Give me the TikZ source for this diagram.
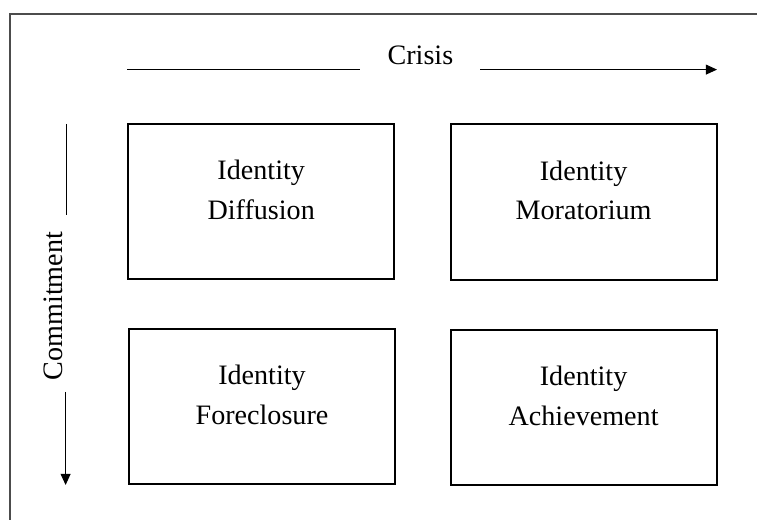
\documentclass[tikz,border=0pt]{standalone}
\usepackage{fontspec}
\setmainfont{Liberation Serif}
\usepackage{tikz}
\usetikzlibrary{arrows.meta}

\begin{document}
\begin{tikzpicture}[>={Triangle[length=2.8mm,width=2.5mm]},
  statusbox/.style={draw=black,line width=1.3pt,minimum width=6.65cm,minimum height=3.88cm,inner sep=0pt},
  statustext/.style={align=center,font=\fontsize{20}{28}\selectfont,inner sep=0pt},
  axislabel/.style={font=\fontsize{20}{24}\selectfont,inner sep=0pt},
  axisline/.style={line width=0.75pt}]
\useasboundingbox (0,0) rectangle (18.925,-13);
\draw[line width=1.3pt,black!70] (0.24,-13) -- (0.24,-0.36) -- (18.925,-0.36);
% crisis axis
\coordinate (cr0) at (3.175,-1.74);
\coordinate (cr1) at (9.0,-1.74);
\node[axislabel] (crisis) at (10.51,-1.39) {Crisis};
\coordinate (cr2) at (12.0,-1.74);
\coordinate (cr3) at (17.925,-1.74);
\draw[axisline] (cr0)--(cr1);
\draw[axisline,->] (cr2)--(cr3);
% commitment axis
\coordinate (cm0) at (1.66,-3.1);
\coordinate (cm1) at (1.66,-5.375);
\node[axislabel,rotate=90] (commit) at (1.34,-7.65) {Commitment};
\coordinate (cm2) at (1.64,-9.8);
\coordinate (cm3) at (1.64,-12.125);
\draw[axisline] (cm0)--(cm1);
\draw[axisline,->] (cm2)--(cm3);
% the four statuses
\node[statusbox] (diff) at (6.53,-5.04) {};
\node[statusbox] (mora) at (14.59,-5.05) {};
\node[statusbox] (fore) at (6.55,-10.16) {};
\node[statusbox] (achi) at (14.59,-10.19) {};
\node[statustext] (difft) at ([yshift=0.29cm]diff.center) {Identity\\Diffusion};
\node[statustext] (morat) at ([yshift=0.29cm]mora.center) {Identity\\Moratorium};
\node[statustext] (foret) at ([yshift=0.29cm]fore.center) {Identity\\Foreclosure};
\node[statustext] (achit) at ([yshift=0.29cm]achi.center) {Identity\\Achievement};
\end{tikzpicture}
\end{document}
